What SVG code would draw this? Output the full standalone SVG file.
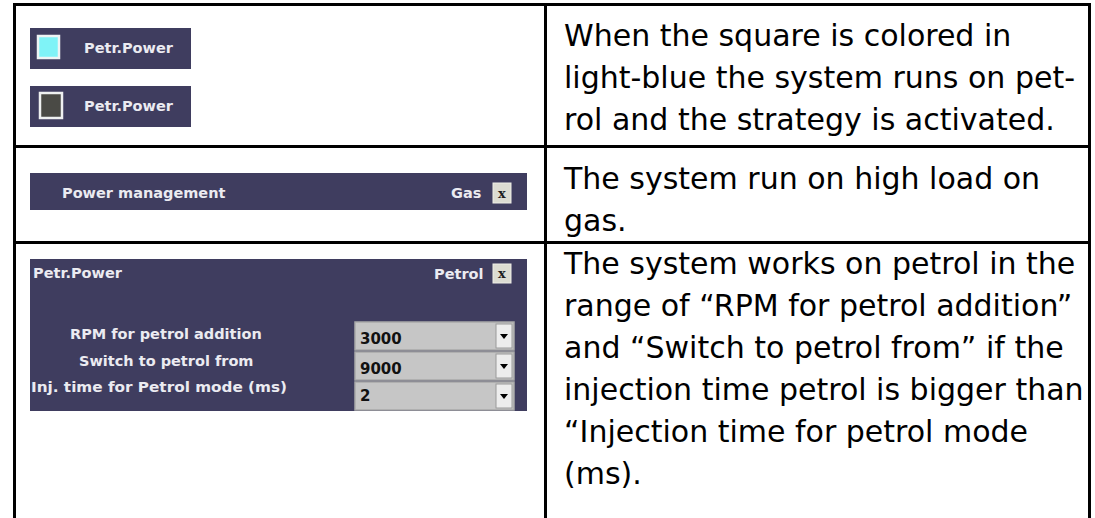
<svg xmlns="http://www.w3.org/2000/svg" width="1095" height="518" viewBox="0 0 1095 518">
<style>
.panel{fill:#3f3d5f}
.wt{font-family:"DejaVu Sans",Verdana,sans-serif;font-weight:bold;font-size:14.5px;fill:#ebebf1}
.desc{font-family:"DejaVu Sans",Verdana,sans-serif;font-size:30px;fill:#000}
.grid{stroke:#000;stroke-width:3;fill:none}
.cb{fill:#dcdcd2;stroke:#eeeee6;stroke-width:1}
.cbx{font-family:"DejaVu Serif",serif;font-weight:bold;font-size:13px;fill:#1e1e1e;text-anchor:middle}
.dd{fill:#c6c6c6;stroke:#a9a9a9;stroke-width:1.5}
.ddb{fill:#ededed;stroke:#9a9a9a;stroke-width:1}
.ddv{font-family:"DejaVu Sans",sans-serif;font-weight:bold;font-size:15px;fill:#111}
.arr{fill:#000}
</style>
<rect width="1095" height="518" fill="#fff"/>
<g id="table" class="grid">
<line x1="13" y1="4.5" x2="1091" y2="4.5"/>
<line x1="14.5" y1="3" x2="14.5" y2="518"/>
<line x1="1089.5" y1="3" x2="1089.5" y2="518"/>
<line x1="545.5" y1="3" x2="545.5" y2="518"/>
<line x1="13" y1="146.5" x2="1091" y2="146.5"/>
<line x1="13" y1="242.5" x2="1091" y2="242.5"/>
</g>
<g id="widget-petr-on">
<rect class="panel" x="30" y="28" width="161" height="41"/>
<rect x="38" y="36" width="21" height="22" fill="#7ff3f7" stroke="#eef4f4" stroke-width="2.5"/>
<text class="wt" x="84" y="53">Petr.Power</text>
</g>
<g id="widget-petr-off">
<rect class="panel" x="30" y="86" width="161" height="41"/>
<rect x="40" y="93" width="22" height="25" fill="#4a4a45" stroke="#eef0f0" stroke-width="2.5"/>
<text class="wt" x="84" y="111">Petr.Power</text>
</g>
<g id="widget-power-management">
<rect class="panel" x="30" y="173" width="497" height="37"/>
<text class="wt" x="62" y="198">Power management</text>
<text class="wt" x="451" y="198">Gas</text>
<rect class="cb" x="493" y="183" width="18" height="20"/>
<text class="cbx" x="502" y="198">x</text>
</g>
<g id="widget-petrol-panel">
<rect class="panel" x="30" y="259" width="497" height="152"/>
<text class="wt" x="33" y="278">Petr.Power</text>
<text class="wt" x="434" y="279">Petrol</text>
<rect class="cb" x="493" y="264" width="18" height="19"/>
<text class="cbx" x="502" y="278">x</text>
<text class="wt" x="70" y="339">RPM for petrol addition</text>
<text class="wt" x="79" y="366">Switch to petrol from</text>
<text class="wt" x="31" y="392" textLength="256" lengthAdjust="spacingAndGlyphs">Inj. time for Petrol mode (ms)</text>
<rect class="dd" x="355" y="322" width="159" height="28"/>
<rect class="ddb" x="496" y="324" width="16" height="24"/>
<path class="arr" d="M500 334h8l-4 5z"/>
<text class="ddv" x="360" y="344">3000</text>
<rect class="dd" x="355" y="352" width="159" height="28"/>
<rect class="ddb" x="496" y="354" width="16" height="24"/>
<path class="arr" d="M500 364h8l-4 5z"/>
<text class="ddv" x="360" y="374">9000</text>
<rect class="dd" x="355" y="382" width="159" height="28"/>
<rect class="ddb" x="496" y="384" width="16" height="24"/>
<path class="arr" d="M500 394h8l-4 5z"/>
<text class="ddv" x="360" y="401">2</text>
</g>
<g id="desc-row1" class="desc">
<text x="564" y="46">When the square is colored in</text>
<text x="564" y="88">light-blue the system runs on pet-</text>
<text x="564" y="130">rol and the strategy is activated.</text>
</g>
<g id="desc-row2" class="desc">
<text x="564" y="189">The system run on high load on</text>
<text x="564" y="231">gas.</text>
</g>
<g id="desc-row3" class="desc">
<text x="564" y="274">The system works on petrol in the</text>
<text x="564" y="316">range of “RPM for petrol addition”</text>
<text x="564" y="358">and “Switch to petrol from” if the</text>
<text x="564" y="400">injection time petrol is bigger than</text>
<text x="564" y="442">“Injection time for petrol mode</text>
<text x="564" y="484">(ms).</text>
</g>
</svg>
